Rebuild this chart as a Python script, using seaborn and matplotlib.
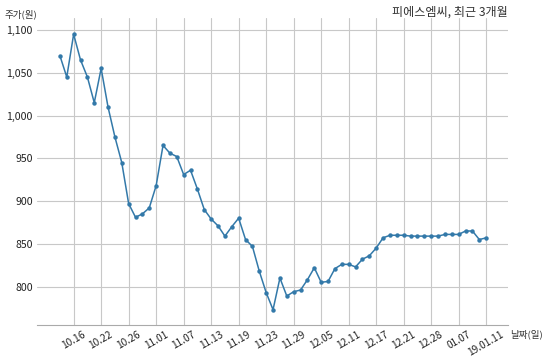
import matplotlib
matplotlib.use("Agg")
import matplotlib.pyplot as plt
import seaborn as sns
import pandas as pd

dates = ["10.12", "10.15", "10.16", "10.17", "10.18", "10.19", "10.22", "10.23", "10.24", "10.25",
         "10.26", "10.29", "10.30", "10.31", "11.01", "11.02", "11.05", "11.06", "11.07", "11.08",
         "11.09", "11.12", "11.13", "11.14", "11.15", "11.16", "11.19", "11.20", "11.21", "11.22",
         "11.23", "11.26", "11.27", "11.28", "11.29", "11.30", "12.03", "12.04", "12.05", "12.06",
         "12.07", "12.10", "12.11", "12.12", "12.13", "12.14", "12.17", "12.18", "12.19", "12.20",
         "12.21", "12.24", "12.26", "12.27", "12.28", "01.02", "01.03", "01.04", "01.07", "01.08",
         "01.09", "01.10", "01.11"]
prices = [1070, 1045, 1095, 1065, 1045, 1015, 1055, 1010, 975, 945,
          897, 881, 885, 892, 918, 965, 956, 952, 931, 936,
          914, 890, 879, 871, 859, 870, 880, 855, 847, 818,
          793, 773, 810, 789, 794, 796, 808, 822, 805, 806,
          821, 826, 826, 823, 832, 836, 845, 857, 860, 860,
          860, 859, 859, 859, 859, 859, 861, 861, 861, 865,
          865, 855, 857]
tick_labels = ["10.16", "10.22", "10.26", "11.01", "11.07", "11.13", "11.19", "11.23",
               "11.29", "12.05", "12.11", "12.17", "12.21", "12.28", "01.07", "19.01.11"]
y_ticks = [800, 850, 900, 950, 1000, 1050, 1100]

df = pd.DataFrame({"idx": range(len(dates)), "date": dates, "price": prices})

sns.set_style("white")
plt.rcParams["font.family"] = ["Noto Sans CJK KR", "DejaVu Sans"]

fig = plt.figure(figsize=(5.5, 3.6), dpi=100)
ax = fig.add_axes([0.067, 0.097, 0.857, 0.853])

sns.lineplot(data=df, x="idx", y="price", ax=ax, color="#3379a9", linewidth=1.1,
             marker="o", markersize=3.2, markeredgewidth=0, zorder=3)

tick_pos = [i for i, d in enumerate(dates) if d in tick_labels or ("19." + d) in tick_labels]
ax.set_xticks(tick_pos)
ax.set_xticklabels(tick_labels, rotation=30, ha="center", fontsize=7.3, color="#222222")
ax.set_yticks(y_ticks)
ax.set_yticklabels([f"{v:,}" for v in y_ticks], fontsize=7.6, color="#222222")
ax.set_xlim(-3.35, 65.2)
ax.set_ylim(755, 1114)

ax.grid(True, color="#c8c8c8", linewidth=0.8)
ax.set_axisbelow(True)
for s in ["top", "right", "left"]:
    ax.spines[s].set_visible(False)
ax.spines["bottom"].set_color("#aaaaaa")
ax.spines["bottom"].set_linewidth(0.8)
ax.tick_params(axis="both", length=0, pad=3)
ax.set_xlabel("")
ax.set_ylabel("")

fig.text(0.009, 0.96, "주가(원)", fontsize=6.9, color="#333333", ha="left", va="center")
fig.text(0.924, 0.967, "피에스엠씨, 최근 3개월", fontsize=8.7, color="#333333", ha="right", va="center")
fig.text(0.928, 0.07, "날짜(일)", fontsize=6.9, color="#333333", ha="left", va="center")

fig.savefig("out.png", dpi=100)
